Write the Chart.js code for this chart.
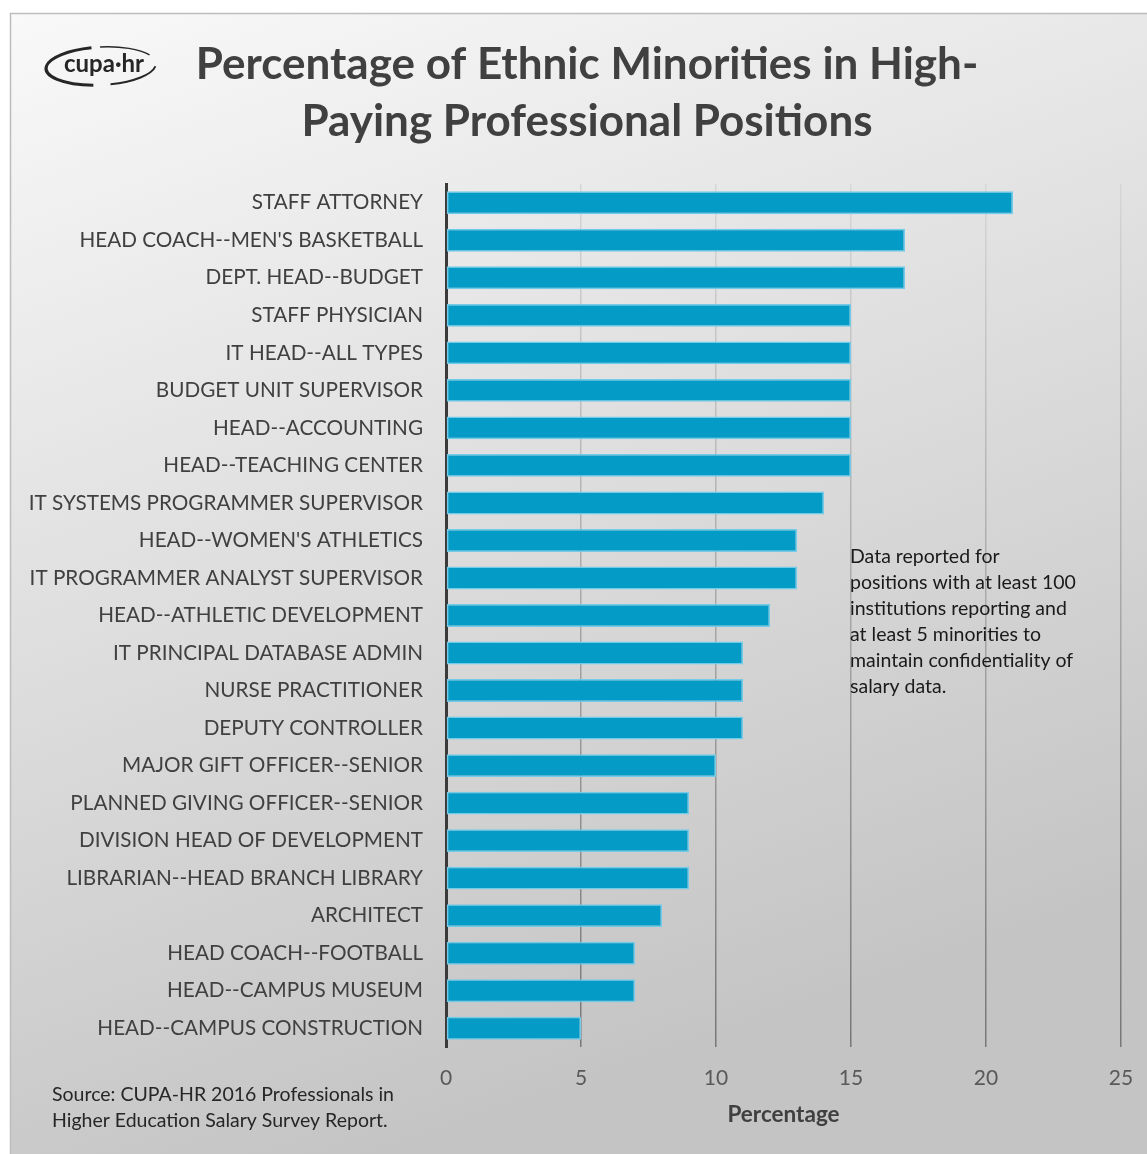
<!DOCTYPE html>
<html>
<head>
<meta charset="utf-8">
<script src="https://cdn.jsdelivr.net/npm/chart.js@4/dist/chart.umd.min.js"></script>
<style>
  html, body { margin: 0; padding: 0; background: #fff; }
  canvas { display: block; }
</style>
</head>
<body>
<canvas id="myChart" width="1147" height="1154"></canvas>
<script>
// values
const positions = [
  'STAFF ATTORNEY',
  'HEAD COACH--MEN\'S BASKETBALL',
  'DEPT. HEAD--BUDGET',
  'STAFF PHYSICIAN',
  'IT HEAD--ALL TYPES',
  'BUDGET UNIT SUPERVISOR',
  'HEAD--ACCOUNTING',
  'HEAD--TEACHING CENTER',
  'IT SYSTEMS PROGRAMMER SUPERVISOR',
  'HEAD--WOMEN\'S ATHLETICS',
  'IT PROGRAMMER ANALYST SUPERVISOR',
  'HEAD--ATHLETIC DEVELOPMENT',
  'IT PRINCIPAL DATABASE ADMIN',
  'NURSE PRACTITIONER',
  'DEPUTY CONTROLLER',
  'MAJOR GIFT OFFICER--SENIOR',
  'PLANNED GIVING OFFICER--SENIOR',
  'DIVISION HEAD OF DEVELOPMENT',
  'LIBRARIAN--HEAD BRANCH LIBRARY',
  'ARCHITECT',
  'HEAD COACH--FOOTBALL',
  'HEAD--CAMPUS MUSEUM',
  'HEAD--CAMPUS CONSTRUCTION'
];
const percentages = [21, 17, 17, 15, 15, 15, 15, 15, 14, 13, 13, 12, 11, 11, 11, 10, 9, 9, 9, 8, 7, 7, 5];
const xMin = 0;
const xMax = 25;
const xStep = 5;

const titleLines = ['Percentage of Ethnic Minorities in High-', 'Paying Professional Positions'];
const noteLines = ['Data reported for', 'positions with at least 100', 'institutions reporting and',
  'at least 5 minorities to', 'maintain confidentiality of', 'salary data.'];
const sourceLines = ['Source: CUPA-HR 2016 Professionals in', 'Higher Education Salary Survey Report.'];

const FONT = 'Lato, "Open Sans", sans-serif';

let gridGrad = null;

const decorPlugin = {
  id: 'decor',
  beforeDraw(chart) {
    const c = chart.ctx;
    const w = chart.width, h = chart.height;
    c.save();
    c.fillStyle = '#ffffff';
    c.fillRect(0, 0, w, h);
    const g = c.createLinearGradient(0, 13, 400, 1154);
    g.addColorStop(0, '#f9f9f9');
    g.addColorStop(1, '#c4c4c4');
    c.fillStyle = g;
    c.fillRect(10, 13, w - 10, h - 13);
    c.strokeStyle = '#bdbdbd';
    c.lineWidth = 1.5;
    c.beginPath();
    c.moveTo(10.5, h);
    c.lineTo(10.5, 13.5);
    c.lineTo(w, 13.5);
    c.stroke();
    c.restore();
  },
  afterDraw(chart) {
    const c = chart.ctx;
    c.save();
    // title
    c.fillStyle = '#404040';
    c.font = 'bold 44px ' + FONT;
    c.textAlign = 'center';
    c.textBaseline = 'middle';
    c.fillText(titleLines[0], 587, 65);
    c.fillText(titleLines[1], 587, 122);

    // logo
    c.fillStyle = '#262626';
    c.font = 'bold 24px ' + FONT;
    c.fillText('cupa\u00b7hr', 104, 64);
    c.strokeStyle = '#262626';
    c.lineWidth = 3;
    c.beginPath();
    c.ellipse(101, 66, 55, 19, -0.05, Math.PI * 0.55, Math.PI * 1.45);
    c.stroke();
    c.lineWidth = 1.5;
    c.beginPath();
    c.ellipse(101, 66, 55, 19, -0.05, Math.PI * 1.5, Math.PI * 1.85);
    c.stroke();
    c.lineWidth = 2;
    c.beginPath();
    c.ellipse(101, 66, 55, 19, -0.05, Math.PI * 0.05, Math.PI * 0.45);
    c.stroke();

    // note
    c.fillStyle = '#1a1a1a';
    c.font = '19.5px ' + FONT;
    c.textAlign = 'left';
    noteLines.forEach((t, i) => c.fillText(t, 850, 557 + i * 26));

    // source
    c.fillStyle = '#262626';
    sourceLines.forEach((t, i) => c.fillText(t, 52, 1095 + i * 26));
    c.restore();
  }
};

function gridColor(ctx) {
  const chart = ctx.chart;
  if (!gridGrad) {
    gridGrad = chart.ctx.createLinearGradient(0, 184, 0, 1047);
    gridGrad.addColorStop(0, '#d6d6d6');
    gridGrad.addColorStop(1, '#777777');
  }
  return gridGrad;
}

const ctx = document.getElementById('myChart').getContext('2d');

new Chart(ctx, {
  type: 'bar',
  data: {
    labels: positions,
    datasets: [{
      label: 'Percentage',
      data: percentages,
      backgroundColor: '#059bc7',
      borderColor: '#72cbe8',
      borderWidth: 1.5,
      borderSkipped: false,
      barPercentage: 0.61,
      categoryPercentage: 1
    }]
  },
  options: {
    indexAxis: 'y',
    responsive: false,
    devicePixelRatio: 1,
    animation: false,
    layout: { padding: { top: 184, right: 26, left: 0, bottom: 0 } },
    plugins: {
      legend: { display: false },
      tooltip: { enabled: false }
    },
    scales: {
      x: {
        min: xMin,
        max: xMax,
        ticks: {
          stepSize: xStep,
          padding: 0,
          color: '#595959',
          font: { family: FONT, size: 21 }
        },
        grid: {
          color: gridColor,
          lineWidth: 1.5,
          drawTicks: true,
          tickLength: 19,
          tickColor: 'rgba(0,0,0,0)'
        },
        border: { display: false },
        title: {
          display: true,
          text: 'Percentage',
          color: '#404040',
          font: { family: FONT, size: 22.5, weight: 'bold' },
          padding: { top: 0, bottom: 26 }
        },
        afterFit(scale) { scale.height = 107; }
      },
      y: {
        ticks: {
          padding: 23,
          color: '#404040',
          font: { family: FONT, size: 20.7 },
          autoSkip: false
        },
        grid: { display: false, drawTicks: false },
        border: { display: true, color: '#3a3a3a', width: 3 },
        afterFit(scale) { scale.width = 446; }
      }
    }
  },
  plugins: [decorPlugin]
});
</script>
</body>
</html>
